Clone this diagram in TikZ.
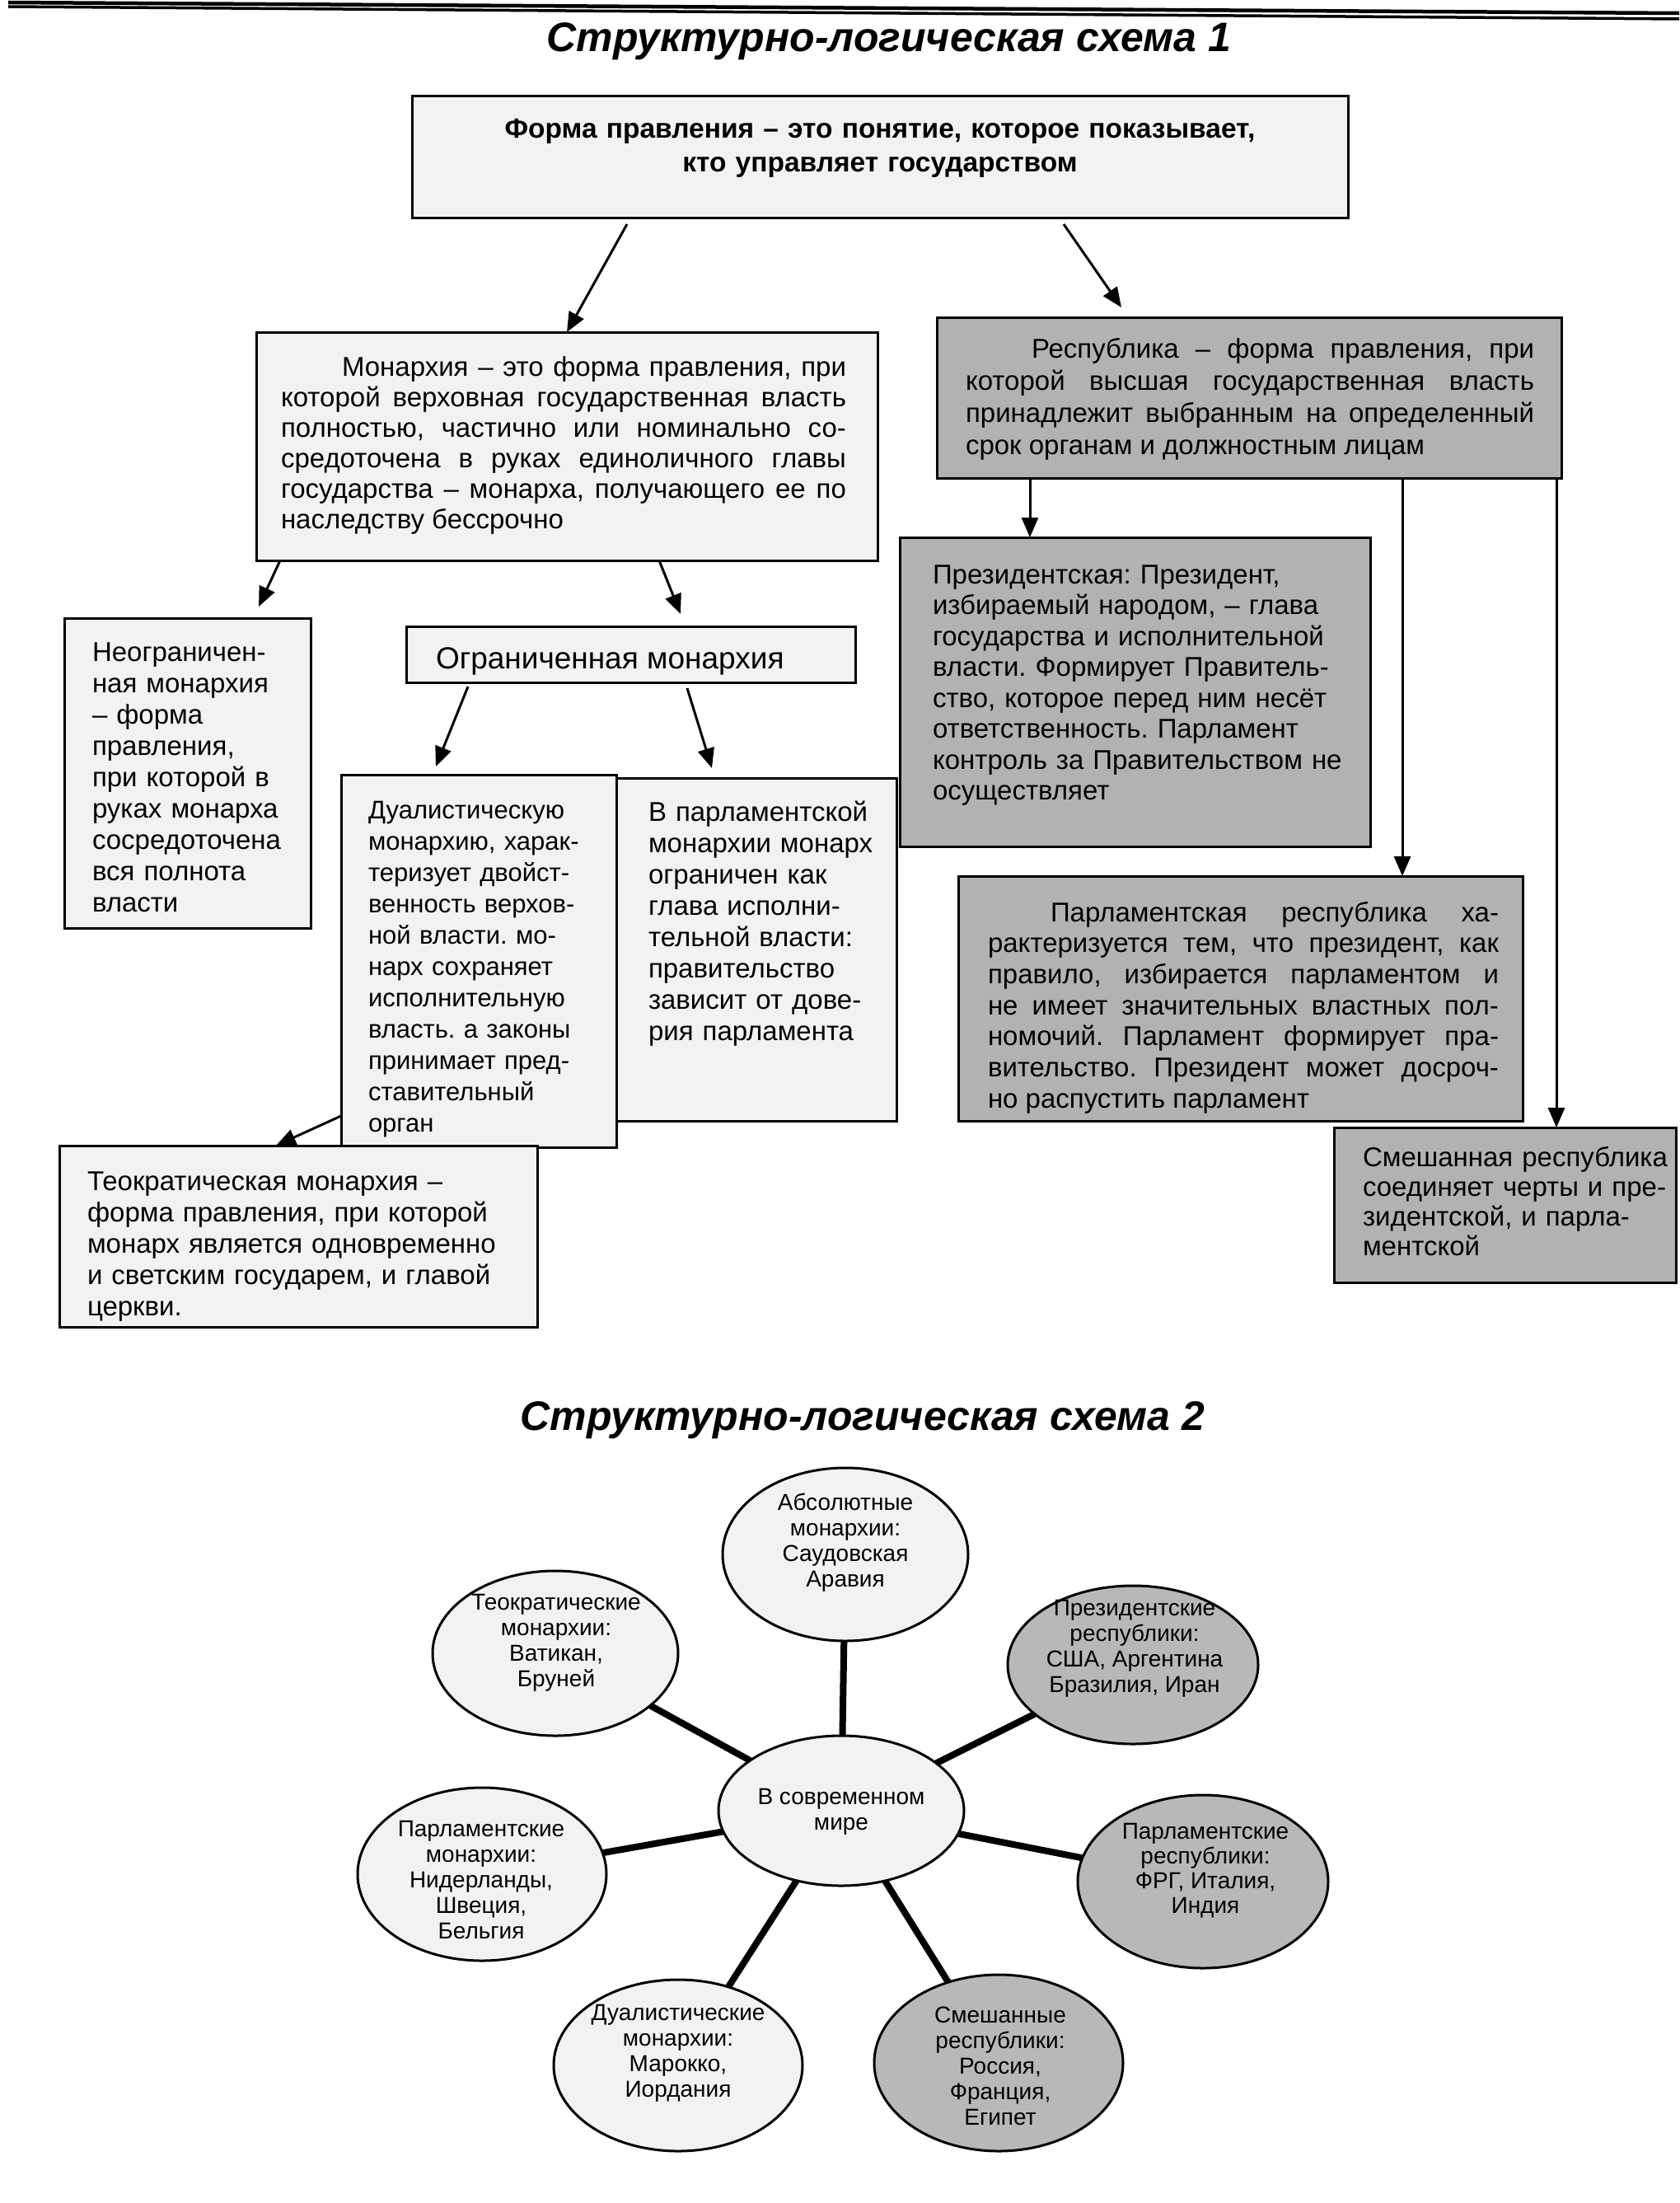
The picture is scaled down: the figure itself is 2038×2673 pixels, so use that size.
\documentclass[tikz,border=0pt]{standalone}
\usepackage{fontspec}
\setmainfont{Liberation Sans}
\usetikzlibrary{arrows.meta,shapes.geometric,calc}
\newcommand\bxfontj[2]{\fontsize{#1}{#2}\selectfont\frenchspacing\tolerance=9999\hbadness=10000\relax}
\begin{document}
\frenchspacing
\begin{tikzpicture}[x=1pt,y=-1pt,
  box/.style={draw=black,line width=3pt,inner sep=0pt,outer sep=0pt,anchor=north west},
  lightbox/.style={box,fill=black!5},
  darkbox/.style={box,fill=black!30},
  txt/.style={inner sep=0pt,outer sep=0pt,anchor=base west,align=left,font=\bxfontj{33}{38}},
  jtxt/.style={txt,align=justify},
  arr/.style={line width=3pt,-{Triangle[length=24pt,width=20pt]}},
  spoke/.style={line width=8pt},
  oval/.style={ellipse,draw=black,line width=3pt,inner sep=0pt,outer sep=0pt},
  lightoval/.style={oval,fill=black!5},
  darkoval/.style={oval,fill=black!28},
  otxt/.style={inner sep=0pt,align=center,font=\fontsize{28}{31}\selectfont},
  title/.style={inner sep=0pt,anchor=base,font=\fontsize{50}{54}\selectfont\bfseries\itshape}
]
\useasboundingbox (0,0) rectangle (2038,2673);

% page rules at the top
\draw[line width=4.5pt] (10,3) -- (2038,16);
\draw[line width=3.5pt] (10,8) -- (2038,23);

% ---------------- scheme 1 ----------------
\node[title] (title1) at (1079,63) {Структурно-логическая схема 1};

\node[lightbox,minimum width=1136pt,minimum height=148pt] (top) at (500,117) {};
\node[inner sep=0pt,anchor=base,text width=1100pt,align=center,font=\bxfontj{33.5}{41}\bfseries] (top-t) at (1068,168)
  {Форма правления – это понятие, которое показывает,\\кто управляет государством};

\node[lightbox,minimum width=754pt,minimum height=277pt] (mon) at (311,403) {};
\node[jtxt,text width=686pt,font=\bxfontj{33}{37}] (mon-t) at (341,456)
  {\hspace*{74pt}Монархия – это форма правления, при\linebreak
   которой верховная государственная власть\linebreak
   полностью, частично или номинально со-\linebreak
   средоточена в руках единоличного главы\linebreak
   государства – монарха, получающего ее по\linebreak
   наследству бессрочно};

\node[darkbox,minimum width=758pt,minimum height=195pt] (rep) at (1137,385) {};
\node[jtxt,text width=690pt,font=\bxfontj{33}{39}] (rep-t) at (1172,434)
  {\hspace*{80pt}Республика – форма правления, при\linebreak
   которой высшая государственная власть\linebreak
   принадлежит выбранным на определенный\linebreak
   срок органам и должностным лицам};

\node[lightbox,minimum width=299pt,minimum height=376pt] (unl) at (78,750) {};
\node[txt,text width=262pt] (unl-t) at (112,802)
  {Неограничен-\\ная монархия\\– форма\\правления,\\при которой в\\руках монарха\\сосредоточена\\вся полнота\\власти};

\node[lightbox,minimum width=545pt,minimum height=68pt] (lim) at (493,760) {};
\node[txt,font=\fontsize{37}{40}\selectfont] (lim-t) at (529,811) {Ограниченная монархия};

\node[lightbox,minimum width=334pt,minimum height=452pt] (dual) at (414,940) {};
\node[txt,text width=295pt,font=\bxfontj{31}{38}] (dual-t) at (447,993)
  {Дуалистическую\\монархию, харак-\\теризует двойст-\\венность верхов-\\ной власти. мо-\\нарх сохраняет\\исполнительную\\власть. а законы\\принимает пред-\\ставительный\\орган};

\node[lightbox,minimum width=340pt,minimum height=416pt] (pm) at (748,944) {};
\node[txt,text width=295pt] (pm-t) at (787,996)
  {В парламентской\\монархии монарх\\ограничен как\\глава исполни-\\тельной власти:\\правительство\\зависит от дове-\\рия парламента};

\node[lightbox,minimum width=580pt,minimum height=220pt] (theo) at (72,1390) {};
\node[txt,text width=535pt] (theo-t) at (106,1444)
  {Теократическая монархия –\\форма правления, при которой\\монарх является одновременно\\и светским государем, и главой\\церкви.};

\node[darkbox,minimum width=571pt,minimum height=375pt] (pres) at (1092,652) {};
\node[txt,text width=525pt,font=\bxfontj{33}{37.5}] (pres-t) at (1132,708)
  {Президентская: Президент,\\избираемый народом, – глава\\государства и исполнительной\\власти. Формирует Правитель-\\ство, которое перед ним несёт\\ответственность. Парламент\\контроль за Правительством не\\осуществляет};

\node[darkbox,minimum width=685pt,minimum height=297pt] (pr) at (1163,1063) {};
\node[jtxt,text width=620pt,font=\bxfontj{33}{37.7}] (pr-t) at (1199,1118)
  {\hspace*{76pt}Парламентская республика ха-\linebreak
   рактеризуется тем, что президент, как\linebreak
   правило, избирается парламентом и\linebreak
   не имеет значительных властных пол-\linebreak
   номочий. Парламент формирует пра-\linebreak
   вительство. Президент может досроч-\linebreak
   но распустить парламент};

\node[darkbox,minimum width=415pt,minimum height=188pt] (mix) at (1619,1368) {};
\node[txt,text width=380pt,font=\bxfontj{33}{36}] (mix-t) at (1654,1415)
  {Смешанная республика\\соединяет черты и пре-\\зидентской, и парла-\\ментской};

% arrows
\draw[arr] ($(761,0 |- top.south)+(0,7)$) -- (688,0 |- mon.north);
\draw[arr] ($(1291,0 |- top.south)+(0,7)$) -- ($(1361,0 |- rep.north)+(0,-12)$);
\draw[arr] (340,0 |- mon.south) -- ($(314,0 |- unl.north)+(0,-14)$);
\draw[arr] (800,0 |- mon.south) -- ($(826,0 |- lim.north)+(0,-15)$);
\draw[arr] ($(568,0 |- lim.south)+(0,5)$) -- ($(529,0 |- dual.north)+(0,-10)$);
\draw[arr] ($(834,0 |- lim.south)+(0,7)$) -- ($(864,0 |- pm.north)+(0,-12)$);
\draw[arr] (dual.west |- 0,1354) -- (335,0 |- theo.north);
\draw[arr] (1250,0 |- rep.south) -- (1250,0 |- pres.north);
\draw[arr] (1702,0 |- rep.south) -- (1702,0 |- pr.north);
\draw[arr] (1889,0 |- rep.south) -- (1889,0 |- mix.north);

% ---------------- scheme 2 ----------------
\node[title] (title2) at (1047,1735) {Структурно-логическая схема 2};

\node[lightoval,minimum width=298pt,minimum height=182pt] (c) at (1021,2197) {};
\node[lightoval,minimum width=298pt,minimum height=210pt] (abs) at (1026,1886) {};
\node[darkoval,minimum width=304pt,minimum height=192pt] (pres2) at (1375,2020) {};
\node[darkoval,minimum width=304pt,minimum height=210pt] (pr2) at (1460,2283) {};
\node[darkoval,minimum width=302pt,minimum height=214pt] (mix2) at (1212,2503) {};
\node[lightoval,minimum width=302pt,minimum height=208pt] (dual2) at (823,2506) {};
\node[lightoval,minimum width=302pt,minimum height=210pt] (pm2) at (585,2274) {};
\node[lightoval,minimum width=298pt,minimum height=200pt] (theo2) at (674,2006) {};

\foreach \n in {abs,pres2,pr2,mix2,dual2,pm2,theo2} {\draw[spoke] (c) -- (\n);}

\node[otxt] (c-t) at (1021,2198) {В современном\\мире};
\node[otxt] (abs-t) at (1026,1872) {Абсолютные\\монархии:\\Саудовская\\Аравия};
\node[otxt] (pres2-t) at (1377,2000) {Президентские\\республики:\\США, Аргентина\\Бразилия, Иран};
\node[otxt,font=\fontsize{28}{30}\selectfont] (pr2-t) at (1463,2270) {Парламентские\\республики:\\ФРГ, Италия,\\Индия};
\node[otxt] (mix2-t) at (1214,2507) {Смешанные\\республики:\\Россия,\\Франция,\\Египет};
\node[otxt] (dual2-t) at (823,2491) {Дуалистические\\монархии:\\Марокко,\\Иордания};
\node[otxt] (pm2-t) at (584,2281) {Парламентские\\монархии:\\Нидерланды,\\Швеция,\\Бельгия};
\node[otxt] (theo2-t) at (675,1993) {Теократические\\монархии:\\Ватикан,\\Бруней};
\end{tikzpicture}
\end{document}
